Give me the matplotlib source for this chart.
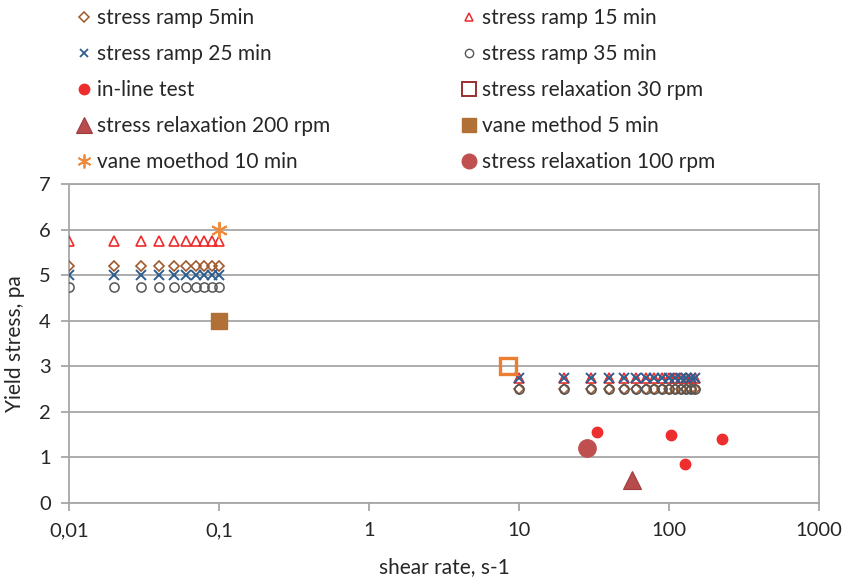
import matplotlib
matplotlib.use("Agg")
import matplotlib.pyplot as plt
from matplotlib.lines import Line2D
from matplotlib.ticker import FixedLocator, FixedFormatter, NullLocator

plt.rcParams['font.family'] = ['Lato', 'DejaVu Sans']

# stress ramp series: low shear-rate group and high shear-rate group
ramp_rate_low = [0.01, 0.02, 0.03, 0.04, 0.05, 0.06, 0.07, 0.08, 0.09, 0.1]
ramp_rate_high = [10, 20, 30, 40, 50, 60, 70, 80, 90, 100, 110, 120, 130, 140, 150]

ramp5_low, ramp5_high = 5.2, 2.5
ramp15_low, ramp15_high = 5.75, 2.75
ramp25_low, ramp25_high = 5.0, 2.75
ramp35_low, ramp35_high = 4.75, 2.5

inline_rate = [33, 103, 128, 225]
inline_stress = [1.55, 1.5, 0.85, 1.4]

relax30_rate, relax30_stress = [8.5], [3.0]
relax200_rate, relax200_stress = [57], [0.5]
relax100_rate, relax100_stress = [28.5], [1.2]
vane5_rate, vane5_stress = [0.1], [4.0]
vane10_rate, vane10_stress = [0.1], [6.0]

x_ticks = [0.01, 0.1, 1, 10, 100, 1000]
x_tick_labels = ["0,01", "0,1", "1", "10", "100", "1000"]
y_ticks = [0, 1, 2, 3, 4, 5, 6, 7]

c_ramp5 = "#A0592A"
c_ramp15 = "#EE2A2A"
c_ramp25 = "#2E5E8E"
c_ramp35 = "#555555"
c_inline = "#EE2E2E"
c_relax30_leg = "#9B2D30"
c_relax30 = "#ED7D31"
c_relax200 = "#B84C4C"
c_vane5 = "#B07036"
c_vane10 = "#EE8A3A"
c_relax100 = "#C05050"
grid_c = "#A6A6A6"
text_c = "#262626"

fig = plt.figure(figsize=(8.45, 5.79), dpi=100)
ax = fig.add_axes([69/845, 1-503/579, (819-69)/845, (503-184)/579])
ax.set_xscale("log")
ax.set_xlim(0.01, 1000)
ax.set_ylim(0, 7)

def both(vals_low, vals_high):
    return ramp_rate_low + ramp_rate_high, [vals_low]*len(ramp_rate_low) + [vals_high]*len(ramp_rate_high)

x, y = both(ramp15_low, ramp15_high)
ax.plot(x, y, ls="none", marker="^", ms=6.8, mfc="none", mec=c_ramp15, mew=1.2, zorder=3)
x, y = both(ramp5_low, ramp5_high)
ax.plot(x, y, ls="none", marker="D", ms=5.4, mfc="none", mec=c_ramp5, mew=1.2, zorder=3)
x, y = both(ramp25_low, ramp25_high)
ax.plot(x, y, ls="none", marker="x", ms=6.5, mec=c_ramp25, mew=1.4, zorder=4)
x, y = both(ramp35_low, ramp35_high)
ax.plot(x, y, ls="none", marker="o", ms=6.6, mfc="none", mec=c_ramp35, mew=1.1, zorder=4)

ax.plot(inline_rate, inline_stress, ls="none", marker="o", ms=7.5, mfc=c_inline, mec=c_inline, zorder=5)
ax.plot(relax30_rate, relax30_stress, ls="none", marker="s", ms=11, mfc="none", mec=c_relax30, mew=2.4, zorder=5)
ax.plot(relax200_rate, relax200_stress, ls="none", marker="^", ms=13, mfc=c_relax200, mec="#9E3C3C", mew=0.8, zorder=5)
ax.plot(vane5_rate, vane5_stress, ls="none", marker="s", ms=12, mfc=c_vane5, mec=c_vane5, zorder=5)
ax.plot(vane10_rate, vane10_stress, ls="none", marker=(6, 2, 0), ms=12, mec=c_vane10, mew=1.4, zorder=5)
ax.plot(relax100_rate, relax100_stress, ls="none", marker="o", ms=12.5, mfc=c_relax100, mec=c_relax100, zorder=5)

ax.xaxis.set_major_locator(FixedLocator(x_ticks))
ax.xaxis.set_major_formatter(FixedFormatter(x_tick_labels))
ax.xaxis.set_minor_locator(NullLocator())
ax.set_yticks(y_ticks)
ax.grid(axis="y", color=grid_c, lw=1.3)
ax.set_axisbelow(True)
for s in ax.spines.values():
    s.set_color(grid_c)
    s.set_linewidth(1.3)
ax.tick_params(axis="both", colors=grid_c, labelcolor=text_c, labelsize=14.5, length=6, width=1.3)
ax.tick_params(axis="x", pad=8)
ax.tick_params(axis="y", pad=7)

ax.set_xlabel("shear rate, s-1", fontsize=15, color=text_c, labelpad=13)
ax.set_ylabel("Yield stress, pa", fontsize=15, color=text_c, labelpad=10)

handles = [
    Line2D([], [], ls="none", marker="D", ms=4.8, mfc="none", mec=c_ramp5, mew=1.1),
    Line2D([], [], ls="none", marker="^", ms=6, mfc="none", mec=c_ramp15, mew=1.1),
    Line2D([], [], ls="none", marker="x", ms=6, mec=c_ramp25, mew=1.3),
    Line2D([], [], ls="none", marker="o", ms=6, mfc="none", mec=c_ramp35, mew=1.0),
    Line2D([], [], ls="none", marker="o", ms=7.5, mfc=c_inline, mec=c_inline),
    Line2D([], [], ls="none", marker="s", ms=10, mfc="none", mec=c_relax30_leg, mew=1.4),
    Line2D([], [], ls="none", marker="^", ms=11, mfc=c_relax200, mec="#9E3C3C", mew=0.8),
    Line2D([], [], ls="none", marker="s", ms=10, mfc=c_vane5, mec=c_vane5),
    Line2D([], [], ls="none", marker=(6, 2, 0), ms=10, mec=c_vane10, mew=1.3),
    Line2D([], [], ls="none", marker="o", ms=10.5, mfc=c_relax100, mec=c_relax100),
]
labels = [
    "stress ramp 5min", "stress ramp 15 min",
    "stress ramp 25 min", "stress ramp 35 min",
    "in-line test", "stress relaxation 30 rpm",
    "stress relaxation 200 rpm", "vane method 5 min",
    "vane moethod 10 min", "stress relaxation 100 rpm",
]

# two legend columns, each placed on its own
leg_kw = dict(loc="upper left", frameon=False, fontsize=15, labelspacing=0.77,
              handlelength=0.8, handletextpad=0.2, borderaxespad=0, borderpad=0,
              labelcolor=text_c)
fig.legend(handles[0::2], labels[0::2], bbox_to_anchor=(76/845, 1-8/579), **leg_kw)
fig.legend(handles[1::2], labels[1::2], bbox_to_anchor=(461/845, 1-8/579), **leg_kw)

fig.savefig("out.png", dpi=100)
